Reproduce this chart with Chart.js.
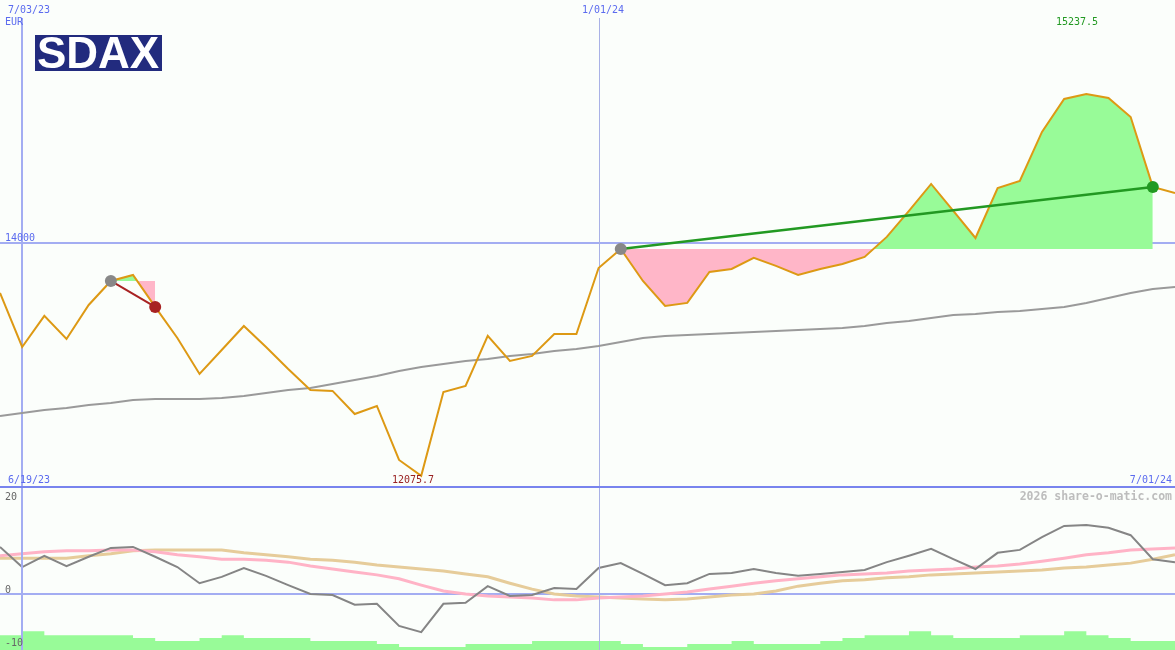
<!DOCTYPE html>
<html>
<head>
<meta charset="utf-8">
<script src="https://cdn.jsdelivr.net/npm/chart.js@4"></script>
<style>
    body{
        margin:0;
        background:#fbfefb;
    }
    #wrap{
        position:relative;
        width:1175px;
        height:650px;
        overflow:hidden;
    }
    #priceChart{
        position:absolute;
        left:0;
        top:0;
    }
    #oscChart{
        position:absolute;
        left:0;
        top:488px;
    }
</style>
</head>
<body>
<div id="wrap">
    <canvas id="priceChart" width="1175" height="488"></canvas>
    <canvas id="oscChart" width="1175" height="162"></canvas>
</div>
<script>
/* =====================================================
   SDAX WEEKLY
===================================================== */

const weeks = [
    "6/26/23","7/03/23","7/10/23","7/17/23","7/24/23","7/31/23","8/07/23",
    "8/14/23","8/21/23","8/28/23","9/04/23","9/11/23","9/18/23","9/25/23",
    "10/02/23","10/09/23","10/16/23","10/23/23","10/30/23","11/06/23",
    "11/13/23","11/20/23","11/27/23","12/04/23","12/11/23","12/18/23",
    "12/25/23","1/01/24","1/08/24","1/15/24","1/22/24","1/29/24","2/05/24",
    "2/12/24","2/19/24","2/26/24","3/04/24","3/11/24","3/18/24","3/25/24",
    "4/01/24","4/08/24","4/15/24","4/22/24","4/29/24","5/06/24","5/13/24",
    "5/20/24","5/27/24","6/03/24","6/10/24","6/17/24","6/24/24","7/01/24"
];

const closes = [
    13592,13147,13403,13213,13493,13691,13740,13477,13221,12925,
    13122,13320,13147,12966,12793,12785,12595,12661,12216,12085,
    12776,12826,13238,13032,13073,13254,13254,13798,13955,13691,
    13485,13510,13765,13790,13881,13815,13740,13790,13831,13889,
    14054,14268,14490,14268,14045,14457,14515,14919,15191,15232,
    15199,15042,14466,14416
];

const movingAvg = [
    12579,12603,12628,12645,12669,12686,12710,12719,12719,12719,
    12727,12743,12768,12793,12809,12842,12875,12908,12949,12982,
    13007,13032,13048,13073,13089,13114,13131,13155,13188,13221,
    13238,13246,13254,13263,13271,13279,13287,13295,13304,13320,
    13345,13361,13386,13411,13419,13436,13444,13460,13477,13510,
    13551,13592,13625,13642
];

const momentum = [
    9.6,5.5,7.8,5.7,7.6,9.4,9.6,7.6,5.5,2.2,
    3.5,5.3,3.7,1.8,0,-0.2,-2.2,-2.0,-6.5,-7.8,
    -2.0,-1.8,1.6,-0.4,-0.2,1.2,1.0,5.3,6.3,4.1,
    1.8,2.2,4.1,4.3,5.1,4.3,3.7,4.1,4.5,4.9,
    6.5,7.8,9.2,7.1,5.1,8.4,9.0,11.6,13.9,14.1,
    13.5,12.0,7.1,6.5
];

const signalFast = [
    7.8,8.2,8.6,8.8,8.8,9.0,9.0,8.6,8.0,7.6,
    7.1,7.1,6.9,6.5,5.7,5.1,4.5,3.9,3.1,1.8,
    0.6,0,-0.4,-0.6,-0.8,-1.2,-1.2,-0.8,-0.6,-0.4,
    0,0.4,1.0,1.6,2.2,2.7,3.1,3.5,3.9,4.1,
    4.3,4.7,4.9,5.1,5.5,5.7,6.1,6.7,7.3,8.0,
    8.4,9.0,9.2,9.4
];

const signalSlow = [
    7.3,7.3,7.3,7.3,7.8,8.2,8.8,9.0,9.0,9.0,
    9.0,8.4,8.0,7.6,7.1,6.9,6.5,5.9,5.5,5.1,
    4.7,4.1,3.5,2.2,1.0,0,-0.4,-0.6,-0.8,-1.0,
    -1.2,-1.0,-0.6,-0.2,0,0.6,1.6,2.2,2.7,2.9,
    3.3,3.5,3.9,4.1,4.3,4.5,4.7,4.9,5.3,5.5,
    5.9,6.3,7.1,8.0
];

const bars = [
    -8.4,-7.6,-8.4,-8.4,-8.4,-8.4,-9.0,-9.6,-9.6,-9.0,
    -8.4,-9.0,-9.0,-9.0,-9.6,-9.6,-9.6,-10.2,-10.8,-10.8,
    -10.8,-10.2,-10.2,-10.2,-9.6,-9.6,-9.6,-9.6,-10.2,-10.8,
    -10.8,-10.2,-10.2,-9.6,-10.2,-10.2,-10.2,-9.6,-9.0,-8.4,
    -8.4,-7.6,-8.4,-9.0,-9.0,-9.0,-8.4,-8.4,-7.6,-8.4,
    -9.0,-9.6,-9.6,-9.6
];

// trend segments: start week, end week
const shortTrend = ["7/31/23","8/14/23"];
const longTrend = ["1/08/24","6/24/24"];

const markWeeks = ["7/03/23","1/01/24"];
const levelLine = 14000;
const priceHigh = "15237.5";
const priceLow = "12075.7";
const oscTicks = ["20","0","-10"];


/* =========================
   HELPERS
========================= */

function between(values, from, to){

    const a = weeks.indexOf(from);
    const b = weeks.indexOf(to);

    return values.map(
        (v, i) => (i >= a && i <= b) ? v : null
    );

}

function ends(values, from, to){

    const a = weeks.indexOf(from);
    const b = weeks.indexOf(to);

    return values.map(
        (v, i) => (i === a || i === b) ? v : null
    );

}

const BLUE_TEXT = "#5b6bef";
const MONO = '10px "DejaVu Sans Mono", monospace';


/* =========================
   PRICE PANEL
========================= */

const priceGuides = {

    id:"priceGuides",

    beforeDatasetsDraw(chart){

        const {ctx, scales:{x, y}} = chart;

        ctx.save();

        const yl = Math.round(y.getPixelForValue(levelLine));
        ctx.fillStyle = "#a3adf2";
        ctx.fillRect(0, yl - 1, chart.width, 2);

        const x1 = Math.round(x.getPixelForValue(weeks.indexOf(markWeeks[0])));
        ctx.fillStyle = "#a3adf2";
        ctx.fillRect(x1 - 1, 18, 2, chart.height);

        const x2 = Math.round(x.getPixelForValue(weeks.indexOf(markWeeks[1])));
        ctx.fillStyle = "#a9b1e6";
        ctx.fillRect(x2, 18, 1, chart.height);

        ctx.restore();

    },

    afterDatasetsDraw(chart){

        const {ctx, scales:{y}} = chart;

        ctx.save();

        // bottom separator
        ctx.fillStyle = "#7884ee";
        ctx.fillRect(0, 486, chart.width, 2);

        ctx.font = MONO;
        ctx.textBaseline = "alphabetic";

        ctx.fillStyle = BLUE_TEXT;
        ctx.textAlign = "left";
        ctx.fillText(markWeeks[0], 8, 13);
        ctx.fillText("EUR", 5, 25);
        ctx.fillText(markWeeks[1], 582, 13);
        ctx.fillText(String(levelLine), 5, Math.round(y.getPixelForValue(levelLine)) - 2);
        ctx.fillText("6/19/23", 8, 483);

        ctx.textAlign = "right";
        ctx.fillText(weeks[weeks.length - 1], 1172, 483);

        ctx.textAlign = "left";
        ctx.fillStyle = "#229922";
        ctx.fillText(priceHigh, 1056, 25);

        ctx.fillStyle = "#992222";
        ctx.fillText(priceLow, 392, 483);

        // logo
        ctx.fillStyle = "#222b7e";
        ctx.fillRect(35, 35, 127, 36);

        ctx.fillStyle = "#ffffff";
        ctx.font = 'bold 44px "Liberation Sans", Arial, sans-serif';
        ctx.textAlign = "center";
        ctx.fillText("SDAX", 98, 68);

        ctx.restore();

    }

};

const shortBase = closes[weeks.indexOf(shortTrend[0])];
const longBase = closes[weeks.indexOf(longTrend[0])];

new Chart(document.getElementById("priceChart"),{

    type:"line",

    data:{

        labels:weeks,

        datasets:[

            {
                data:ends(closes, longTrend[0], longTrend[1]),
                borderColor:"#229922",
                borderWidth:2.5,
                spanGaps:true,
                pointRadius:ctx => ctx.raw == null ? 0 : 6,
                pointBorderWidth:0,
                pointBackgroundColor:ctx =>
                    weeks[ctx.dataIndex] === longTrend[0] ? "#888888" : "#229922",
                order:1
            },

            {
                data:ends(closes, shortTrend[0], shortTrend[1]),
                borderColor:"#a82222",
                borderWidth:2,
                spanGaps:true,
                pointRadius:ctx => ctx.raw == null ? 0 : 6,
                pointBorderWidth:0,
                pointBackgroundColor:ctx =>
                    weeks[ctx.dataIndex] === shortTrend[0] ? "#888888" : "#a82222",
                order:1
            },

            {
                data:closes,
                borderColor:"#dd9914",
                borderWidth:2,
                pointRadius:0,
                order:3
            },

            {
                data:movingAvg,
                borderColor:"#9a9a9a",
                borderWidth:2,
                pointRadius:0,
                order:4
            },

            {
                data:between(closes, longTrend[0], longTrend[1]),
                borderWidth:0,
                borderColor:"rgba(0,0,0,0)",
                pointRadius:0,
                fill:{
                    target:{value:longBase},
                    above:"#98fb98",
                    below:"#ffb6c8"
                },
                order:5
            },

            {
                data:between(closes, shortTrend[0], shortTrend[1]),
                borderWidth:0,
                borderColor:"rgba(0,0,0,0)",
                pointRadius:0,
                fill:{
                    target:{value:shortBase},
                    above:"#98fb98",
                    below:"#ffb6c8"
                },
                order:5
            }

        ]

    },

    options:{

        responsive:false,

        animation:false,

        layout:{ padding:0 },

        plugins:{
            legend:{ display:false },
            tooltip:{ enabled:false }
        },

        scales:{

            x:{
                type:"category",
                display:false,
                offset:false
            },

            y:{
                display:false,
                min:11985,
                max:16006
            }

        }

    },

    plugins:[priceGuides]

});


/* =========================
   OSCILLATOR PANEL
========================= */

const oscGuides = {

    id:"oscGuides",

    beforeDatasetsDraw(chart){

        const {ctx, scales:{y}} = chart;

        ctx.save();

        const y0 = Math.round(y.getPixelForValue(0));
        ctx.fillStyle = "#a3adf2";
        ctx.fillRect(0, y0 - 1, chart.width, 2);

        ctx.restore();

    },

    afterDatasetsDraw(chart){

        const {ctx, scales:{x}} = chart;

        ctx.save();

        const x1 = Math.round(x.getPixelForValue(weeks.indexOf(markWeeks[0])));
        ctx.fillStyle = "#a3adf2";
        ctx.fillRect(x1 - 1, 0, 2, chart.height);

        const x2 = Math.round(x.getPixelForValue(weeks.indexOf(markWeeks[1])));
        ctx.fillStyle = "#a9b1e6";
        ctx.fillRect(x2, 0, 1, chart.height);

        ctx.font = MONO;
        ctx.textBaseline = "alphabetic";
        ctx.textAlign = "left";
        ctx.fillStyle = "#666666";
        ctx.fillText(oscTicks[0], 5, 12);
        ctx.fillText(oscTicks[1], 5, 105);
        ctx.fillText(oscTicks[2], 5, 158);

        ctx.font = 'bold 11.5px "DejaVu Sans Mono", monospace';
        ctx.textAlign = "right";
        ctx.fillStyle = "#bdbdbd";
        ctx.fillText("2026 share-o-matic.com", 1172, 12);

        ctx.restore();

    }

};

new Chart(document.getElementById("oscChart"),{

    type:"line",

    data:{

        labels:weeks,

        datasets:[

            {
                data:momentum,
                borderColor:"#858585",
                borderWidth:2,
                pointRadius:0,
                order:1
            },

            {
                data:signalFast,
                borderColor:"#ffb3c6",
                borderWidth:3,
                pointRadius:0,
                order:2
            },

            {
                data:signalSlow,
                borderColor:"#e6cc9a",
                borderWidth:3,
                pointRadius:0,
                order:3
            },

            {
                // each value holds until the next week
                data:bars,
                stepped:"before",
                borderWidth:0,
                borderColor:"rgba(0,0,0,0)",
                backgroundColor:"#98fb98",
                pointRadius:0,
                fill:"start",
                order:4
            }

        ]

    },

    options:{

        responsive:false,

        animation:false,

        layout:{ padding:0 },

        plugins:{
            legend:{ display:false },
            tooltip:{ enabled:false }
        },

        scales:{

            x:{
                type:"category",
                display:false,
                offset:false
            },

            y:{
                display:false,
                min:-11.43,
                max:21.63
            }

        }

    },

    plugins:[oscGuides]

});
</script>
</body>
</html>
